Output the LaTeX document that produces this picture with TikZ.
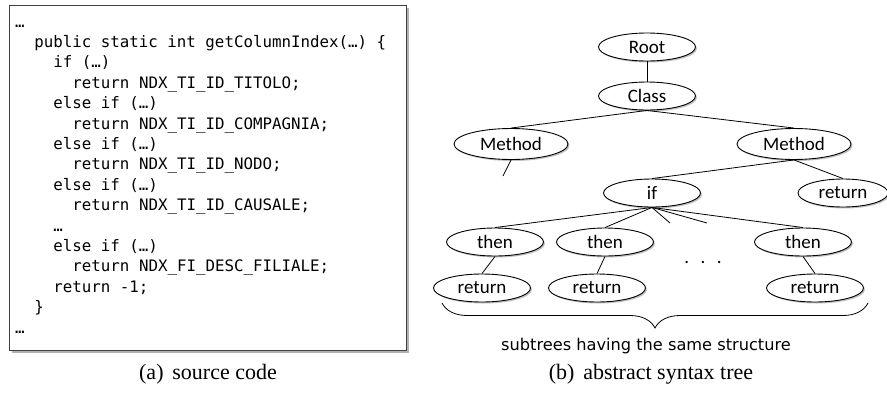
\documentclass[tikz,border=0pt]{standalone}
\usepackage{fontspec}
\setmainfont{Liberation Serif}
\newfontfamily\codefont{DejaVu Sans Mono}
\newfontfamily\treefont{Carlito}
\newfontfamily\notefont{DejaVu Sans}
\usetikzlibrary{shapes.geometric,shadows,decorations.pathreplacing}

\tikzset{
  codeline/.style={anchor=base west, inner sep=0pt,
    font=\codefont\fontsize{15.8}{18}\selectfont},
  astnode/.style={ellipse, draw=black, line width=0.9pt, fill=white,
    inner sep=0pt, minimum height=28pt,
    font=\treefont\fontsize{19}{22}\selectfont,
    drop shadow={shadow xshift=1.5pt, shadow yshift=-1.5pt,
      fill=black, opacity=0.25}},
  wide/.style={minimum width=114pt, minimum height=31pt},
  mid/.style={minimum width=97pt},
  edge/.style={line width=0.8pt},
  caption/.style={font=\fontsize{22}{26}\selectfont},
}

\begin{document}
\begin{tikzpicture}[x=1pt, y=-1pt]
  \useasboundingbox (0,0) rectangle (887,394);

  % ---------- (a) source code ----------
  \node[draw=black!75, line width=1.2pt, fill=white, anchor=north west,
        minimum width=397pt, minimum height=345pt, inner sep=0pt,
        drop shadow={shadow xshift=2.5pt, shadow yshift=-2.5pt,
          fill=black, opacity=0.3}]
    (codebox) at (9,5) {};

  \def\cw{9.54}
  \def\ls{20.4}
  \node[codeline] (c0)  at (15+0*\cw, 27+0*\ls)  {…};
  \node[codeline] (c1)  at (15+2*\cw, 27+1*\ls)  {public static int getColumnIndex(…) \{};
  \node[codeline] (c2)  at (15+4*\cw, 27+2*\ls)  {if (…)};
  \node[codeline] (c3)  at (15+6*\cw, 27+3*\ls)  {return NDX\_TI\_ID\_TITOLO;};
  \node[codeline] (c4)  at (15+4*\cw, 27+4*\ls)  {else if (…)};
  \node[codeline] (c5)  at (15+6*\cw, 27+5*\ls)  {return NDX\_TI\_ID\_COMPAGNIA;};
  \node[codeline] (c6)  at (15+4*\cw, 27+6*\ls)  {else if (…)};
  \node[codeline] (c7)  at (15+6*\cw, 27+7*\ls)  {return NDX\_TI\_ID\_NODO;};
  \node[codeline] (c8)  at (15+4*\cw, 27+8*\ls)  {else if (…)};
  \node[codeline] (c9)  at (15+6*\cw, 27+9*\ls)  {return NDX\_TI\_ID\_CAUSALE;};
  \node[codeline] (c10) at (15+4*\cw, 27+10*\ls) {…};
  \node[codeline] (c11) at (15+4*\cw, 27+11*\ls) {else if (…)};
  \node[codeline] (c12) at (15+6*\cw, 27+12*\ls) {return NDX\_FI\_DESC\_FILIALE;};
  \node[codeline] (c13) at (15+4*\cw, 27+13*\ls) {return -1;};
  \node[codeline] (c14) at (15+2*\cw, 27+14*\ls) {\}};
  \node[codeline] (c15) at (15+0*\cw, 27+15*\ls) {…};

  \node[caption] (capa) at (208,374) {(a)\hspace{0.4em}source code};

  % ---------- (b) abstract syntax tree ----------
  \node[astnode, mid] (root)    at (647,47)  {Root};
  \node[astnode, mid] (class)   at (647,96)  {Class};
  \node[astnode, wide] (methL)  at (511,144) {Method};
  \node[astnode, wide] (methR)  at (794,144) {Method};
  \node[astnode, mid] (if)      at (652,193) {if};
  \node[astnode, minimum width=90pt] (retR) at (843,193) {return};
  \node[astnode, mid] (then1)   at (495,242) {then};
  \node[astnode, mid] (then2)   at (605,242) {then};
  \node[astnode, mid] (then3)   at (803,242) {then};
  \node[astnode, mid] (ret1)    at (482,288) {return};
  \node[astnode, mid] (ret2)    at (597,288) {return};
  \node[astnode, mid] (ret3)    at (815,288) {return};

  \coordinate (stubL) at (503,176);
  \coordinate (stub1) at (670,223);
  \coordinate (stub2) at (707,223);

  \draw[edge] (root.south) -- (class.north);
  \draw[edge] (class.south) -- (methL.north);
  \draw[edge] (class.south) -- (methR.north);
  \draw[edge] (methL.south) -- (stubL);
  \draw[edge] (methR.south) -- (if.north);
  \draw[edge] (methR.south) -- (retR.north);
  \draw[edge] (if.south) -- (then1.north);
  \draw[edge] (if.south) -- (then2.north);
  \draw[edge] (if.south) -- (stub1);
  \draw[edge] (if.south) -- (stub2);
  \draw[edge] (if.south) -- (then3.north);
  \draw[edge] (then1.south) -- (ret1.north);
  \draw[edge] (then2.south) -- (ret2.north);
  \draw[edge] (then3.south) -- (ret3.north);

  \node[font=\treefont\fontsize{19}{22}\selectfont] (dots) at (703,262) {.\hspace{0.6em}.\hspace{0.6em}.};

  \coordinate (brL) at (442,303);
  \coordinate (brR) at (868,303);
  \draw[edge, decorate, decoration={brace, amplitude=25pt, mirror}] (brL) -- (brR);

  \node[font=\notefont\fontsize{16.2}{19}\selectfont] (note) at (646,346)
    {subtrees having the same structure};

  \node[caption] (capb) at (651,374) {(b)\hspace{0.4em}abstract syntax tree};
\end{tikzpicture}
\end{document}
